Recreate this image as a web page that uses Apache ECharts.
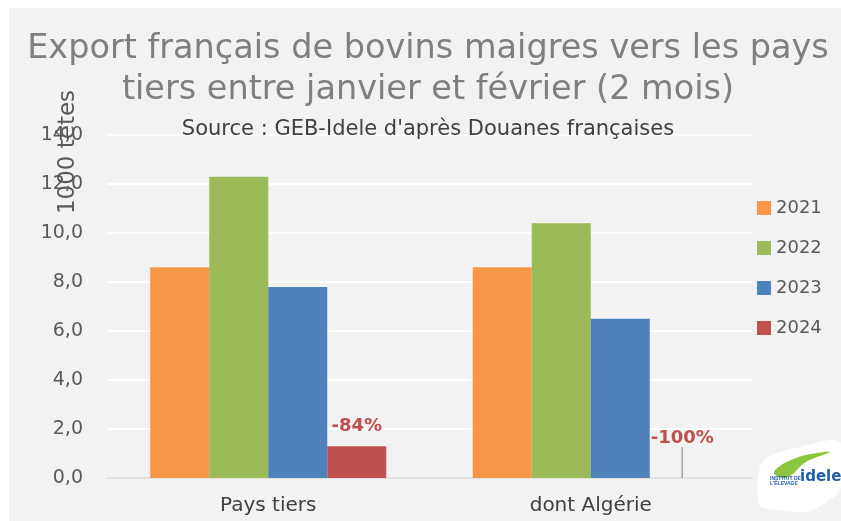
<!DOCTYPE html>
<html>
<head>
<meta charset="utf-8">
<script src="https://cdn.jsdelivr.net/npm/echarts@6/dist/echarts.min.js"></script>
<style>
  html, body { margin: 0; padding: 0; background: #fff; }
  #chart { width: 841px; height: 521px; }
</style>
</head>
<body>
<div id="chart"></div>
<script>
// categories and values (1000 têtes)
var categories = ['Pays tiers', 'dont Algérie'];
var years = ['2021', '2022', '2023', '2024'];
var values2021 = [8.6, 8.6];
var values2022 = [12.3, 10.4];
var values2023 = [7.8, 6.5];
var values2024 = [1.3, 0];
var labels2024 = ['-84%', '-100%'];
var colors = ['#f79646', '#9bbb59', '#4f81bd', '#c0504d'];

var FONT = '"DejaVu Sans", sans-serif';

var chart = echarts.init(document.getElementById('chart'));

function bar(name, data, color) {
  return {
    name: name,
    type: 'bar',
    barWidth: 59,
    barGap: '0%',
    itemStyle: { color: color },
    data: data
  };
}

var s2024 = bar('2024', values2024.map(function (v, i) {
  return {
    value: v,
    label: {
      show: true,
      position: 'top',
      distance: 11,
      formatter: labels2024[i],
      color: '#c0504d',
      fontWeight: 'bold',
      fontSize: 18,
      fontFamily: FONT
    },
    labelLine: { show: i === 1, lineStyle: { color: '#a6a6a6', width: 1.5 } }
  };
}), colors[3]);
s2024.labelLayout = function (params) {
  if (params.dataIndex === 1) return { dx: 3, dy: -20 };
};

chart.setOption({
  backgroundColor: '#fff',
  animation: false,
  graphic: [
    { type: 'rect', shape: { x: 9, y: 8, width: 832, height: 513 }, style: { fill: '#f2f2f2' }, z: -10 },
    {
      type: 'text', x: 68, y: 152, rotation: Math.PI / 2, z: 5,
      style: { text: '1000 têtes', fill: '#595959', font: '23px "DejaVu Sans", sans-serif', textAlign: 'center', textVerticalAlign: 'middle' }
    },
    // logo
    {
      type: 'group', x: 756, y: 440, z: 10,
      children: [
        { type: 'polygon', shape: { points: [[8, 20], [40, 8], [84, 2], [84, 50], [70, 62], [52, 72], [20, 70], [4, 66], [2, 40]], smooth: 0.3 }, style: { fill: '#ffffff' } },
        { type: 'polygon', shape: { points: [[18, 32], [40, 18], [74, 12], [50, 22], [30, 38]], smooth: 0.4 }, style: { fill: '#8cc63f' } },
        { type: 'text', style: { x: 44, y: 30, text: 'idele', fill: '#1f5fa8', font: 'bold 15px "DejaVu Sans", sans-serif' } },
        { type: 'text', style: { x: 14, y: 36, text: 'INSTITUT DE\nL\'ÉLEVAGE', fill: '#1f5fa8', font: 'bold 5px sans-serif' } }
      ]
    }
  ],
  title: [
    {
      text: 'Export français de bovins maigres vers les pays\ntiers entre janvier et février (2 mois)',
      left: 423,
      textAlign: 'center',
      top: 24,
      textStyle: { color: '#7f7f7f', fontSize: 33.5, fontWeight: 'normal', fontFamily: FONT, lineHeight: 41 }
    },
    {
      text: 'Source : GEB-Idele d\'après Douanes françaises',
      left: 423,
      textAlign: 'center',
      top: 114,
      textStyle: { color: '#404040', fontSize: 21, fontWeight: 'normal', fontFamily: FONT }
    }
  ],
  legend: {
    data: years,
    orient: 'vertical',
    left: 752,
    top: 193,
    icon: 'rect',
    itemWidth: 14,
    itemHeight: 14,
    itemGap: 20,
    textStyle: { color: '#595959', fontSize: 18, fontFamily: FONT, lineHeight: 20 }
  },
  grid: { left: 107, right: 89, top: 135, bottom: 43 },
  xAxis: {
    type: 'category',
    data: categories,
    axisLine: { lineStyle: { color: '#d9d9d9', width: 1.5 } },
    axisTick: { show: false },
    axisLabel: { color: '#404040', fontSize: 20, fontFamily: FONT, margin: 18 }
  },
  yAxis: {
    type: 'value',
    min: 0,
    max: 14,
    interval: 2,
    axisLine: { show: false },
    axisTick: { show: false },
    splitLine: { lineStyle: { color: '#ffffff', width: 2 } },
    axisLabel: {
      color: '#595959', fontSize: 19, fontFamily: FONT, margin: 24,
      formatter: function (v) { return v.toFixed(1).replace('.', ','); }
    }
  },
  series: [
    bar('2021', values2021, colors[0]),
    bar('2022', values2022, colors[1]),
    bar('2023', values2023, colors[2]),
    s2024
  ]
});
</script>
</body>
</html>
